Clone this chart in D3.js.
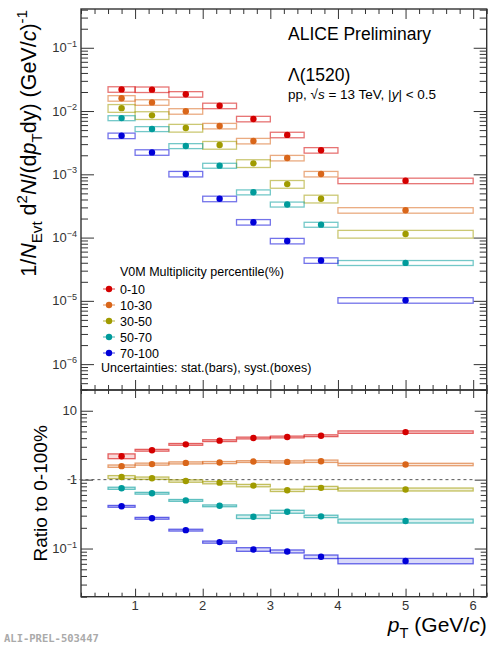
<!DOCTYPE html>
<html>
<head>
<meta charset="utf-8">
<script src="https://cdn.jsdelivr.net/npm/d3@7"></script>
<style>
  body { margin: 0; background: #fff; }
  svg text { font-family: "Liberation Sans", Arial, Helvetica, sans-serif; }
</style>
</head>
<body>
<div id="chart"></div>
<script>
// pT bins (GeV/c)
const binLo = [0.6, 1.0, 1.5, 2.0, 2.5, 3.0, 3.5, 4.0];
const binHi = [1.0, 1.5, 2.0, 2.5, 3.0, 3.5, 4.0, 6.0];
const ptCenter = [0.8, 1.25, 1.75, 2.25, 2.75, 3.25, 3.75, 5.0];

// multiplicity classes
const classes = ["0-10", "10-30", "30-50", "50-70", "70-100"];

// spectra 1/N dN/(dpT dy)
const yield0_10 = [0.0220, 0.0218, 0.0184, 0.0121, 0.0075, 0.0042, 0.0024, 0.00079];
const yield10_30 = [0.0159, 0.0137, 0.0099, 0.0058, 0.00336, 0.00181, 0.00101, 0.00027];
const yield30_50 = [0.0111, 0.00855, 0.0054, 0.0029, 0.00149, 0.00070, 0.00041, 0.000114];
const yield50_70 = [0.00774, 0.0052, 0.0028, 0.00137, 0.00052, 0.000334, 0.00016, 0.0000398];
const yield70_100 = [0.00407, 0.00222, 0.00101, 0.00041, 0.000175, 0.0000883, 0.0000435, 0.0000102];

// relative syst. of the spectra, one per class
const sysYield = [0.10, 0.10, 0.14, 0.09, 0.10];

// ratio to 0-100%
const ratio0_10 = [2.19, 2.67, 3.25, 3.68, 4.02, 4.16, 4.34, 4.90];
const ratio10_30 = [1.57, 1.68, 1.75, 1.77, 1.83, 1.81, 1.85, 1.66];
const ratio30_50 = [1.09, 1.05, 0.955, 0.905, 0.82, 0.70, 0.76, 0.72];
const ratio50_70 = [0.75, 0.635, 0.50, 0.417, 0.29, 0.342, 0.293, 0.251];
const ratio70_100 = [0.41, 0.275, 0.185, 0.124, 0.097, 0.0908, 0.076, 0.066];

// relative syst. of the ratios
const sysRatio0_10 = [0.08, 0.03, 0.03, 0.03, 0.03, 0.03, 0.03, 0.04];
const sysRatio10_30 = [0.04, 0.035, 0.035, 0.035, 0.03, 0.035, 0.04, 0.04];
const sysRatio30_50 = [0.05, 0.04, 0.04, 0.04, 0.04, 0.04, 0.05, 0.05];
const sysRatio50_70 = [0.035, 0.03, 0.03, 0.03, 0.06, 0.05, 0.04, 0.065];
const sysRatio70_100 = [0.03, 0.03, 0.03, 0.035, 0.06, 0.05, 0.06, 0.09];

const colors = ["#d40000", "#d9661a", "#a09b00", "#009b9b", "#0000d8"];

const yields = [yield0_10, yield10_30, yield30_50, yield50_70, yield70_100];
const ratios = [ratio0_10, ratio10_30, ratio30_50, ratio50_70, ratio70_100];
const sysRatios = [sysRatio0_10, sysRatio10_30, sysRatio30_50, sysRatio50_70, sysRatio70_100];

const width = 498, height = 650;
const frame = { left: 81, right: 486.7, top: 9, mid: 390, bottom: 596.7 };

const svg = d3.select("#chart").append("svg")
    .attr("width", width)
    .attr("height", height);

const x = d3.scaleLinear().domain([0.2, 6.2]).range([frame.left, frame.right]);
const yTop = d3.scaleLog().domain([3.9e-7, 0.41]).range([frame.mid, frame.top]);
const yBot = d3.scaleLog().domain([0.02, 20]).range([frame.bottom, frame.mid]);

// text with italic / sub / sup parts
function richText(sel, parts, size) {
    let shift = 0;
    parts.forEach(p => {
        const target = p.s === "sub" ? 0.3 * size : p.s === "sup" ? -0.42 * size : 0;
        const ts = sel.append("tspan")
            .attr("dy", target - shift)
            .text(p.t);
        if (p.i) ts.style("font-style", "italic");
        if (p.s) ts.style("font-size", (size * 0.7) + "px");
        shift = target;
    });
}

function logMinor(scale) {
    const [a, b] = scale.domain();
    const out = [];
    for (let k = Math.floor(Math.log10(a)); k <= Math.ceil(Math.log10(b)); k++) {
        for (let m = 2; m <= 9; m++) {
            const v = m * Math.pow(10, k);
            if (v >= a && v <= b) out.push(v);
        }
    }
    return out;
}

function yMajorOf(y) {
    const [a, b] = y.domain();
    const out = [];
    for (let k = Math.ceil(Math.log10(a)); k <= Math.floor(Math.log10(b)); k++) out.push(Math.pow(10, k));
    return out;
}

const majorX = [1, 2, 3, 4, 5, 6];
const minorX = d3.range(0.2, 6.21, 0.2).filter(v => Math.abs(v - Math.round(v)) > 0.01);

function drawAxes(y, top, bottom, xMaj, xMin, yMaj, yMin) {
    const g = svg.append("g").attr("class", "axes");
    const ticks = [
        [d3.axisBottom(x).tickValues(majorX).tickSize(-xMaj), `translate(0,${bottom})`],
        [d3.axisBottom(x).tickValues(minorX).tickSize(-xMin), `translate(0,${bottom})`],
        [d3.axisTop(x).tickValues(majorX).tickSize(-xMaj), `translate(0,${top})`],
        [d3.axisTop(x).tickValues(minorX).tickSize(-xMin), `translate(0,${top})`],
        [d3.axisLeft(y).tickValues(yMajorOf(y)).tickSize(-yMaj), `translate(${frame.left},0)`],
        [d3.axisLeft(y).tickValues(logMinor(y)).tickSize(-yMin), `translate(${frame.left},0)`],
        [d3.axisRight(y).tickValues(yMajorOf(y)).tickSize(-yMaj), `translate(${frame.right},0)`],
        [d3.axisRight(y).tickValues(logMinor(y)).tickSize(-yMin), `translate(${frame.right},0)`]
    ];
    ticks.forEach(([ax, tr]) => {
        const a = g.append("g").attr("transform", tr).call(ax.tickFormat(""));
        a.select(".domain").remove();
        a.selectAll("line").attr("stroke", "#333").attr("stroke-width", 1);
    });
    g.append("rect")
        .attr("x", frame.left).attr("y", top)
        .attr("width", frame.right - frame.left).attr("height", bottom - top)
        .attr("fill", "none").attr("stroke", "#333").attr("stroke-width", 1.4);
}

function powerLabel(y, v, xEnd) {
    const k = Math.round(Math.log10(v));
    const t = svg.append("text")
        .attr("x", xEnd).attr("y", y(v) + 4.5)
        .attr("text-anchor", "end")
        .attr("fill", "#333")
        .style("font-size", "13px");
    if (k === 0) t.text("1");
    else if (k === 1) t.text("10");
    else richText(t, [{ t: "10" }, { t: "\u2212" + (-k), s: "sup" }], 13);
}

// ---------- top panel: spectra ----------
drawAxes(yTop, frame.top, frame.mid, 10, 5, 13, 7);
yMajorOf(yTop).forEach(v => powerLabel(yTop, v, 77));

yields.forEach((vals, s) => {
    const g = svg.append("g").attr("class", "spectrum");
    g.selectAll("rect")
        .data(vals)
        .enter()
        .append("rect")
        .attr("x", (d, i) => x(binLo[i]))
        .attr("width", (d, i) => x(binHi[i]) - x(binLo[i]))
        .attr("y", d => yTop(d * (1 + sysYield[s])))
        .attr("height", d => yTop(d * (1 - sysYield[s])) - yTop(d * (1 + sysYield[s])))
        .attr("fill", "none")
        .attr("stroke", colors[s])
        .attr("stroke-opacity", 0.55)
        .attr("stroke-width", 1.3);
    g.selectAll("circle")
        .data(vals)
        .enter()
        .append("circle")
        .attr("cx", (d, i) => x(ptCenter[i]))
        .attr("cy", d => yTop(d))
        .attr("r", 3.2)
        .attr("fill", colors[s]);
});

// texts
svg.append("text")
    .attr("x", 288).attr("y", 39.5)
    .style("font-size", "17.5px")
    .text("ALICE Preliminary");

svg.append("text")
    .attr("x", 288).attr("y", 81)
    .style("font-size", "17.5px")
    .text("\u039B(1520)");

richText(svg.append("text").attr("x", 288).attr("y", 99).style("font-size", "13.5px"),
    [{ t: "pp, \u221A" }, { t: "s", i: true }, { t: " = 13 TeV, |" }, { t: "y", i: true }, { t: "| < 0.5" }], 13.5);

// legend
const legend = svg.append("g")
    .attr("class", "legend")
    .attr("transform", "translate(109,289)");

legend.append("text")
    .attr("x", 11).attr("y", -13)
    .style("font-size", "12.5px")
    .text("V0M Multiplicity percentile(%)");

classes.forEach((c, i) => {
    legend.append("line")
        .attr("x1", -6).attr("x2", 6)
        .attr("y1", i * 16).attr("y2", i * 16)
        .attr("stroke", colors[i]).attr("stroke-opacity", 0.5).attr("stroke-width", 1.5);
    legend.append("circle")
        .attr("cx", 0).attr("cy", i * 16).attr("r", 3.2)
        .attr("fill", colors[i]);
    legend.append("text")
        .attr("x", 11).attr("y", i * 16 + 4.5)
        .style("font-size", "12.5px")
        .text(c);
});

legend.append("text")
    .attr("x", -8).attr("y", 83)
    .style("font-size", "12.5px")
    .text("Uncertainties: stat.(bars), syst.(boxes)");

// y title, top
richText(svg.append("text")
        .attr("transform", `translate(36,${frame.top + 1}) rotate(-90)`)
        .attr("text-anchor", "end")
        .style("font-size", "21.5px"),
    [{ t: "1/" }, { t: "N", i: true }, { t: "Evt", s: "sub" }, { t: " d" }, { t: "2", s: "sup" },
     { t: "N", i: true }, { t: "/(d" }, { t: "p", i: true }, { t: "T", s: "sub" }, { t: "dy) (GeV/" },
     { t: "c", i: true }, { t: ")" }, { t: "-1", s: "sup" }], 21.5);

// ---------- bottom panel: ratios ----------
drawAxes(yBot, frame.mid, frame.bottom, 8, 4, 12, 6);
yMajorOf(yBot).forEach(v => powerLabel(yBot, v, 77));

svg.append("line")
    .attr("x1", x(0)).attr("x2", x(6))
    .attr("y1", yBot(1)).attr("y2", yBot(1))
    .attr("stroke", "#555")
    .attr("stroke-width", 1)
    .attr("stroke-dasharray", "3,3");

ratios.forEach((vals, s) => {
    const g = svg.append("g").attr("class", "ratio");
    const sys = sysRatios[s];
    g.selectAll("rect")
        .data(vals)
        .enter()
        .append("rect")
        .attr("x", (d, i) => x(binLo[i]))
        .attr("width", (d, i) => x(binHi[i]) - x(binLo[i]))
        .attr("y", (d, i) => yBot(d * (1 + sys[i])))
        .attr("height", (d, i) => yBot(d * (1 - sys[i])) - yBot(d * (1 + sys[i])))
        .attr("fill", colors[s])
        .attr("fill-opacity", 0.15)
        .attr("stroke", colors[s])
        .attr("stroke-opacity", 0.6)
        .attr("stroke-width", 1.3);
    g.selectAll("circle")
        .data(vals)
        .enter()
        .append("circle")
        .attr("cx", (d, i) => x(ptCenter[i]))
        .attr("cy", d => yBot(d))
        .attr("r", 3.2)
        .attr("fill", colors[s]);
});

// x tick labels
svg.append("g")
    .selectAll("text")
    .data(majorX)
    .enter()
    .append("text")
    .attr("x", d => x(d))
    .attr("y", 610)
    .attr("text-anchor", "middle")
    .attr("fill", "#333")
    .style("font-size", "13px")
    .text(d => d);

// y title, bottom
svg.append("text")
    .attr("transform", `translate(47,${(frame.mid + frame.bottom) / 2}) rotate(-90)`)
    .attr("text-anchor", "middle")
    .style("font-size", "19px")
    .text("Ratio to 0-100%");

// x title
richText(svg.append("text")
        .attr("x", frame.right).attr("y", 632)
        .attr("text-anchor", "end")
        .style("font-size", "21px"),
    [{ t: "p", i: true }, { t: "T", s: "sub" }, { t: " (GeV/" }, { t: "c", i: true }, { t: ")" }], 21);

// watermark
svg.append("text")
    .attr("x", 4).attr("y", 642)
    .attr("fill", "#aaa")
    .style("font-family", "'DejaVu Sans Mono', monospace")
    .style("font-weight", "bold")
    .style("font-size", "10.5px")
    .text("ALI-PREL-503447");
</script>
</body>
</html>
